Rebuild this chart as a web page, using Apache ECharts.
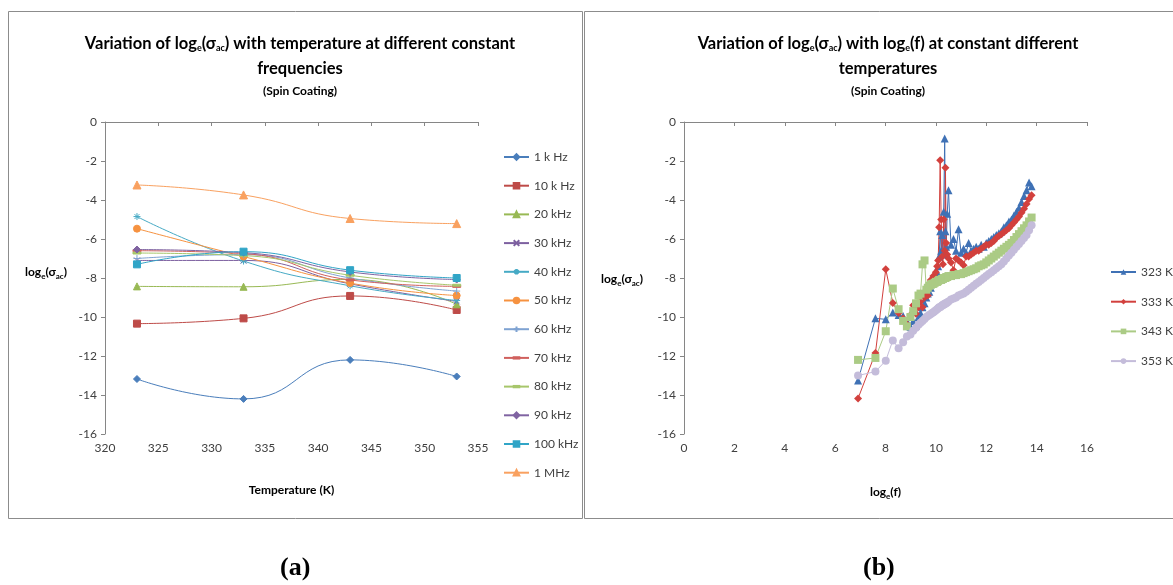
<!DOCTYPE html>
<html>
<head>
<meta charset="utf-8">
<script src="https://cdn.jsdelivr.net/npm/echarts@6/dist/echarts.min.js"></script>
<style>
  html, body { margin: 0; padding: 0; background: #fff; }
  #main { width: 1173px; height: 585px; }
</style>
</head>
<body>
<div id="main"></div>
<script>
// ---- chart (a): log_e(sigma_ac) vs temperature ----
var temps = [323, 333, 343, 353];
var freqNames = ["1 k Hz", "10 k Hz", "20 kHz", "30 kHz", "40 kHz", "50 kHz",
  "60 kHz", "70 kHz", "80 kHz", "90 kHz", "100 kHz", "1 MHz"];
var sig1k   = [-13.18, -14.2, -12.2, -13.05];
var sig10k  = [-10.34, -10.07, -8.92, -9.64];
var sig20k  = [-8.43, -8.45, -8.07, -9.35];
var sig30k  = [-7.1, -7.1, -8.3, -9.2];
var sig40k  = [-4.85, -7.13, -8.4, -9.15];
var sig50k  = [-5.47, -6.9, -8.26, -8.9];
var sig60k  = [-7.0, -6.8, -8.0, -8.67];
var sig70k  = [-6.6, -6.75, -8.1, -8.43];
var sig80k  = [-6.72, -6.85, -7.86, -8.37];
var sig90k  = [-6.54, -6.7, -7.69, -8.08];
var sig100k = [-7.3, -6.65, -7.6, -8.0];
var sig1M   = [-3.23, -3.74, -4.95, -5.21];

// ---- chart (b): log_e(sigma_ac) vs log_e(f) ----
var tempNames = ["323 K", "333 K", "343 K", "353 K"];
var logF = [6.91, 7.60, 8.01, 8.29, 8.52, 8.70, 8.85, 8.99, 9.10, 9.21, 9.31, 9.39,
  9.47, 9.55, 9.62, 9.68, 9.74, 9.80, 9.85, 9.90, 9.95, 10.00, 10.05, 10.09, 10.13,
  10.17, 10.21, 10.25, 10.28, 10.31, 10.35, 10.38, 10.41, 10.45, 10.50, 10.60, 10.70,
  10.80, 10.90, 11.00, 11.10, 11.20, 11.30, 11.40, 11.50, 11.60, 11.70, 11.80, 11.90,
  12.00, 12.10, 12.20, 12.30, 12.40, 12.50, 12.60, 12.70, 12.80, 12.90, 13.00, 13.10,
  13.20, 13.30, 13.40, 13.50, 13.60, 13.70, 13.80];
var sig323 = [-13.25, -10.07, -10.12, -9.77, -9.9, -9.95, -10.2, -10.5, -10.2, -10.43,
  -10.0, -9.8, -9.5, -9.3, -9.0, -8.8, -8.7, -8.5, -8.3, -8.2, -8.0, -7.9, -7.7, -7.4,
  -6.9, -5.6, -6.6, -5.8, -6.8, -4.6, -0.85, -5.6, -6.4, -4.7, -3.5, -6.3, -6.0, -6.6,
  -5.5, -6.7, -6.5, -6.7, -6.2, -6.6, -6.5, -6.4, -6.5, -6.3, -6.4, -6.2, -6.1, -6.0,
  -5.9, -5.8, -5.7, -5.6, -5.4, -5.3, -5.1, -5.0, -4.8, -4.6, -4.4, -4.1, -3.8, -3.5,
  -3.1, -3.3];
var sig333 = [-14.18, -11.85, -7.55, -9.28, -9.8, -10.08, -10.37, -9.9, -9.4, -9.83,
  -9.5, -9.2, -9.5, -9.0, -8.7, -8.9, -8.4, -8.1, -8.3, -7.9, -8.0, -7.7, -7.4, -7.1,
  -5.4, -1.96, -5.0, -6.9, -7.3, -5.0, -6.6, -2.35, -6.2, -6.8, -7.0, -7.2, -7.6, -7.0,
  -7.1, -7.2, -7.35, -6.9, -6.9, -6.8, -6.7, -6.6, -6.6, -6.5, -6.4, -6.3, -6.3, -6.2,
  -6.1, -5.95, -5.85, -5.75, -5.65, -5.55, -5.45, -5.3, -5.15, -5.0, -4.85, -4.65,
  -4.45, -4.2, -3.95, -3.75];
var sig343 = [-12.2, -12.1, -10.73, -8.54, -9.6, -10.2, -10.48, -10.0, -9.7, -9.3,
  -8.9, -8.8, -7.3, -7.1, -8.6, -8.5, -8.4, -8.35, -8.3, -8.3, -8.25, -8.2, -8.2, -8.15,
  -8.1, -8.1, -8.1, -8.05, -8.05, -8.0, -8.0, -8.0, -7.95, -7.95, -7.9, -7.9, -7.85,
  -7.85, -7.8, -7.8, -7.75, -7.7, -7.65, -7.6, -7.55, -7.5, -7.4, -7.35, -7.3, -7.2,
  -7.1, -7.0, -6.9, -6.8, -6.7, -6.6, -6.5, -6.4, -6.3, -6.2, -6.05, -5.9, -5.75, -5.6,
  -5.45, -5.3, -5.1, -4.9];
var sig353 = [-13.0, -12.8, -12.24, -11.2, -11.6, -11.3, -11.0, -10.9, -10.7, -10.55,
  -10.4, -10.3, -10.2, -10.1, -10.0, -9.95, -9.9, -9.85, -9.8, -9.75, -9.7, -9.65, -9.6,
  -9.55, -9.5, -9.5, -9.45, -9.4, -9.4, -9.35, -9.35, -9.3, -9.3, -9.25, -9.2, -9.1,
  -9.05, -9.0, -8.9, -8.85, -8.8, -8.7, -8.6, -8.5, -8.4, -8.3, -8.2, -8.1, -8.0, -7.9,
  -7.8, -7.7, -7.6, -7.5, -7.4, -7.3, -7.15, -7.0, -6.85, -6.7, -6.55, -6.4, -6.25,
  -6.1, -5.95, -5.8, -5.55, -5.3];

var leftValues = [sig1k, sig10k, sig20k, sig30k, sig40k, sig50k, sig60k, sig70k,
  sig80k, sig90k, sig100k, sig1M];
var rightValues = [sig323, sig333, sig343, sig353];

// styles (Excel-like palette and markers)
var FONT = "Lato, 'Liberation Sans', sans-serif";
var leftColors = ["#4A7EBB", "#BE4B48", "#98B954", "#7D60A0", "#46AAC5", "#F69240",
  "#7FA3D2", "#D0605D", "#A7C66B", "#8064A2", "#31A5C7", "#F9A160"];
var X_PATH = "path://M0,0L10,10M10,0L0,10";
var STAR_PATH = "path://M5,0L5,10M0,5L10,5M1.5,1.5L8.5,8.5M8.5,1.5L1.5,8.5";
var PLUS_PATH = "path://M5,0L5,10M0,5L10,5";
// the two moveTo points keep a square box so the bar stays thin
var DASH_PATH = "path://M0,0M10,10M0,3.8h10v2.4h-10z";
var leftSymbols = ["diamond", "rect", "triangle", X_PATH, STAR_PATH, "circle",
  PLUS_PATH, DASH_PATH, DASH_PATH, "diamond", "rect", "triangle"];
var leftSizes = [7, 7, 7, 6, 7, 7, 7, 8, 8, 7, 7, 8];
var rightColors = ["#3F71B5", "#D2403D", "#ABCB85", "#C4BCDA"];
var rightSymbols = ["triangle", "diamond", "rect", "circle"];

var subRich = {
  m: { fontFamily: FONT, fontWeight: "bold", fontSize: 16.5, color: "#000", lineHeight: 25, verticalAlign: "middle" },
  s: { fontFamily: FONT, fontWeight: "bold", fontSize: 9, color: "#000", lineHeight: 9, padding: [10, 0, 0, 0], verticalAlign: "middle" }
};
var nameRich = {
  m: { fontFamily: FONT, fontWeight: "bold", fontSize: 12, color: "#000", lineHeight: 16, verticalAlign: "middle" },
  s: { fontFamily: FONT, fontWeight: "bold", fontSize: 8, color: "#000", lineHeight: 8, padding: [8, 0, 0, 0], verticalAlign: "middle" }
};

var series = [];
leftValues.forEach(function (vals, i) {
  series.push({
    name: freqNames[i],
    type: "line",
    xAxisIndex: 0,
    yAxisIndex: 0,
    smooth: true,
    data: temps.map(function (t, j) { return [t, vals[j]]; }),
    symbol: leftSymbols[i],
    symbolSize: leftSizes[i],
    color: leftColors[i],
    itemStyle: { color: leftColors[i], borderColor: leftColors[i], borderWidth: 1 },
    lineStyle: { width: 1, color: leftColors[i] }
  });
});
rightValues.forEach(function (vals, i) {
  series.push({
    name: tempNames[i],
    type: "line",
    xAxisIndex: 1,
    yAxisIndex: 1,
    data: logF.map(function (x, j) { return [x, vals[j]]; }),
    symbol: rightSymbols[i],
    symbolSize: 8,
    color: rightColors[i],
    itemStyle: { color: rightColors[i], borderWidth: 0 },
    lineStyle: { width: 1, color: rightColors[i] }
  });
});

var axisCommon = {
  axisLine: { show: true, lineStyle: { color: "#868686", width: 1 } },
  axisTick: { show: true, length: 4, lineStyle: { color: "#868686" } },
  axisLabel: { color: "#404040", fontSize: 12, fontFamily: FONT },
  splitLine: { show: false }
};

var myChart = echarts.init(document.getElementById("main"), null, { renderer: "canvas" });

var option = {
  animation: false,
  backgroundColor: "#fff",
  title: [
    {
      text: "{m|Variation of log}{s|e}{m|(σ}{s|ac}{m|) with temperature at different constant}\n{m|frequencies}",
      left: 295, top: 26, textAlign: "center",
      textStyle: { rich: subRich },
      subtext: "(Spin Coating)", itemGap: 11,
      subtextStyle: { fontFamily: FONT, fontWeight: "bold", fontSize: 12, color: "#000" }
    },
    {
      text: "{m|Variation of log}{s|e}{m|(σ}{s|ac}{m|) with log}{s|e}{m|(f) at constant different}\n{m|temperatures}",
      left: 883, top: 26, textAlign: "center",
      textStyle: { rich: subRich },
      subtext: "(Spin Coating)", itemGap: 11,
      subtextStyle: { fontFamily: FONT, fontWeight: "bold", fontSize: 12, color: "#000" }
    }
  ],
  legend: [
    {
      data: freqNames, orient: "vertical", left: 498, top: 146,
      itemWidth: 25, itemHeight: 7, itemGap: 16.7,
      textStyle: { fontFamily: FONT, fontSize: 12, color: "#404040" }
    },
    {
      data: tempNames, orient: "vertical", left: 1105, top: 261,
      itemWidth: 25, itemHeight: 7, itemGap: 17.7,
      textStyle: { fontFamily: FONT, fontSize: 12, color: "#404040" }
    }
  ],
  grid: [
    { left: 105, top: 122, width: 373, height: 312 },
    { left: 684, top: 122, width: 403, height: 312 }
  ],
  xAxis: [
    Object.assign({}, axisCommon, {
      gridIndex: 0, type: "value", min: 320, max: 355, interval: 5,
      name: "Temperature (K)", nameLocation: "middle", nameGap: 50,
      nameTextStyle: { fontFamily: FONT, fontWeight: "bold", fontSize: 12, color: "#000" }
    }),
    Object.assign({}, axisCommon, {
      gridIndex: 1, type: "value", min: 0, max: 16, interval: 2,
      name: "{m|log}{s|e}{m|(f)}", nameLocation: "middle", nameGap: 50,
      nameTextStyle: { rich: nameRich }
    })
  ],
  yAxis: [
    Object.assign({}, axisCommon, { gridIndex: 0, type: "value", min: -16, max: 0, interval: 2 }),
    Object.assign({}, axisCommon, { gridIndex: 1, type: "value", min: -16, max: 0, interval: 2 })
  ],
  graphic: [
    { type: "rect", shape: { x: 8.5, y: 11.5, width: 574, height: 507 }, style: { fill: "none", stroke: "#8C8C8C", lineWidth: 1 }, silent: true, z: -1 },
    { type: "rect", shape: { x: 584.5, y: 11.5, width: 600, height: 507 }, style: { fill: "none", stroke: "#8C8C8C", lineWidth: 1 }, silent: true, z: -1 },
    { type: "text", left: 25, top: 264, style: { text: "{m|log}{s|e}{m|(σ}{s|ac}{m|)}", rich: nameRich } },
    { type: "text", left: 601, top: 271, style: { text: "{m|log}{s|e}{m|(σ}{s|ac}{m|)}", rich: nameRich } },
    { type: "text", left: 280, top: 555, style: { text: "(a)", font: "bold 26px 'Liberation Serif', serif", fill: "#000" } },
    { type: "text", left: 863, top: 555, style: { text: "(b)", font: "bold 26px 'Liberation Serif', serif", fill: "#000" } }
  ],
  series: series
};

myChart.setOption(option);
</script>
</body>
</html>
